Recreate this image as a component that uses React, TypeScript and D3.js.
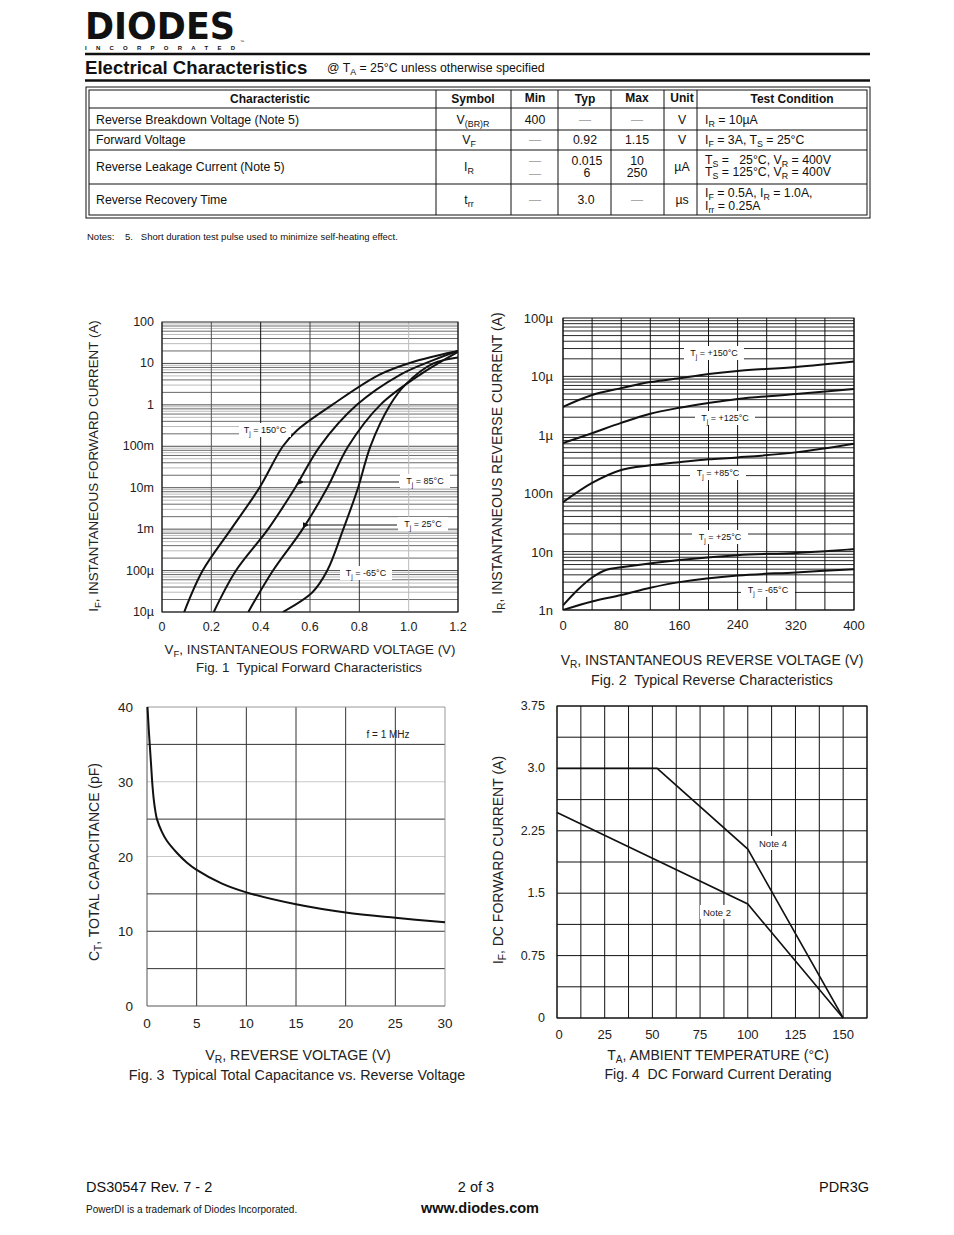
import React from "react";
import * as d3 from "d3";

const FONT = "'Liberation Sans', Arial, Helvetica, sans-serif";

// ---------- Fig. 1 data (V, A) ----------
const f1V150 = [0.09, 0.165, 0.28, 0.395, 0.49, 0.55, 0.69, 0.88, 1.02, 1.2];
const f1I150 = [1e-5, 1e-4, 1e-3, 1e-2, 0.1, 0.25, 1, 5.3, 11, 20];
const f1V85 = [0.21, 0.3, 0.43, 0.54, 0.64, 0.79, 0.965, 1.1, 1.2];
const f1I85 = [1e-5, 1e-4, 1e-3, 1e-2, 0.1, 1, 5.3, 12, 20];
const f1V25 = [0.35, 0.45, 0.57, 0.67, 0.755, 0.885, 1.045, 1.2];
const f1I25 = [1e-5, 1e-4, 1e-3, 1e-2, 0.1, 1, 5.3, 19];
const f1Vm65 = [0.49, 0.61, 0.67, 0.735, 0.795, 0.845, 0.925, 0.985, 1.1, 1.2];
const f1Im65 = [1e-5, 3e-5, 1e-4, 1e-3, 1e-2, 0.1, 1, 3, 10, 14];
const f1XTicks = [0, 0.2, 0.4, 0.6, 0.8, 1.0, 1.2];
const f1XTickLabels = ["0", "0.2", "0.4", "0.6", "0.8", "1.0", "1.2"];
const f1YTicks = [100, 10, 1, 0.1, 0.01, 1e-3, 1e-4, 1e-5];
const f1YTickLabels = ["100", "10", "1", "100m", "10m", "1m", "100µ", "10µ"];

// ---------- Fig. 2 data (V, A) ----------
const f2V = [0, 40, 80, 120, 160, 200, 240, 320, 400];
const f2I150 = [3e-6, 4.8e-6, 6.3e-6, 8e-6, 9.3e-6, 1.1e-5, 1.24e-5, 1.45e-5, 1.8e-5];
const f2I125 = [7.2e-7, 1.07e-6, 1.6e-6, 2.3e-6, 2.9e-6, 3.5e-6, 4.1e-6, 5e-6, 6.1e-6];
const f2I85 = [7e-8, 1.5e-7, 2.5e-7, 3e-7, 3.4e-7, 3.8e-7, 4.1e-7, 5e-7, 7e-7];
const f2V25 = [0, 20, 40, 60, 80, 160, 240, 320, 400];
const f2I25 = [1.2e-9, 2.2e-9, 3.6e-9, 4.9e-9, 5.4e-9, 7.2e-9, 8.7e-9, 9.5e-9, 1.1e-8];
const f2Vm65 = [0, 40, 80, 120, 160, 240, 320, 400];
const f2Im65 = [1e-9, 1.4e-9, 1.8e-9, 2.4e-9, 3e-9, 3.9e-9, 4.4e-9, 5e-9];
const f2XTicks = [0, 80, 160, 240, 320, 400];
const f2YTicks = [1e-4, 1e-5, 1e-6, 1e-7, 1e-8, 1e-9];
const f2YTickLabels = ["100µ", "10µ", "1µ", "100n", "10n", "1n"];

// ---------- Fig. 3 data (V, pF) ----------
const f3V = [0.05, 0.2, 0.4, 0.55, 0.7, 0.85, 1, 1.5, 2, 3, 4, 5, 7.5, 10, 15, 20, 25, 30];
const f3C = [40, 36.5, 32.5, 29.5, 27.4, 26, 25, 23.3, 22.1, 20.5, 19.2, 18.2, 16.4, 15.2, 13.6, 12.5, 11.8, 11.2];
const f3XTicks = [0, 5, 10, 15, 20, 25, 30];
const f3YTicks = [0, 10, 20, 30, 40];

// ---------- Fig. 4 data (°C, A) ----------
const f4TNote4 = [0, 52.5, 100, 150];
const f4INote4 = [3.0, 3.0, 2.03, 0];
const f4TNote2 = [0, 100, 150];
const f4INote2 = [2.47, 1.37, 0];
const f4XTicks = [0, 25, 50, 75, 100, 125, 150];
const f4YTicks = [0, 0.75, 1.5, 2.25, 3.0, 3.75];
const f4YTickLabels = ["0", "0.75", "1.5", "2.25", "3.0", "3.75"];

const PRE = { whiteSpace: "pre" } as any;

// rich text helper: parts [text, isSub]
function rich(parts: [string, boolean][], shift = 3) {
  let cur = 0;
  return parts.map(([t, sub], i) => {
    const target = sub ? shift : 0;
    const dy = target - cur;
    cur = target;
    return (
      <tspan key={i} dy={dy} fontSize={sub ? "72%" : undefined}>
        {t}
      </tspan>
    );
  });
}

function Label({ x, y, w, parts, size = 9 }: any) {
  return (
    <g>
      <rect x={x - w / 2} y={y - 7} width={w} height={14} fill="white" />
      <text x={x} y={y + 3} textAnchor="middle" fontSize={size} fill="#111">
        {rich(parts, 2.5)}
      </text>
    </g>
  );
}

function Fig1() {
  const x = d3.scaleLinear().domain([0, 1.2]).range([162, 458]);
  const y = d3.scaleLog().domain([1e-5, 100]).range([612, 322]);
  const line = d3
    .line<[number, number]>()
    .x((d) => x(d[0]))
    .y((d) => y(d[1]))
    .curve(d3.curveCatmullRom.alpha(0.5));
  const hLines: { v: number; m: number }[] = [];
  for (let d = -5; d <= 1; d++) for (let m = 1; m <= 9; m++) hLines.push({ v: m * Math.pow(10, d), m });
  const vCol = ["#222", "#555", "#111", "#444", "#333", "#bbb", "#222"];
  const series = [
    [f1V150, f1I150],
    [f1V85, f1I85],
    [f1V25, f1I25],
    [f1Vm65, f1Im65],
  ];
  return (
    <g>
      <defs>
        <clipPath id="c1">
          <rect x={162} y={322} width={296} height={290} />
        </clipPath>
        <marker id="arr" viewBox="0 0 10 10" refX="1" refY="5" markerWidth="7" markerHeight="7" orient="auto-start-reverse">
          <path d="M10,1 L0,5 L10,9 z" fill="#111" />
        </marker>
      </defs>
      {hLines.map((h, i) => (
        <line key={i} x1={162} x2={458} y1={y(h.v)} y2={y(h.v)}
          stroke={h.m === 1 ? "#222" : h.m % 2 === 1 ? "#aaa" : "#444"} strokeWidth={0.8} />
      ))}
      {f1XTicks.map((t, i) => (
        <line key={i} x1={x(t)} x2={x(t)} y1={322} y2={612} stroke={vCol[i]} strokeWidth={1} />
      ))}
      <rect x={162} y={322} width={296} height={290} fill="none" stroke="#222" strokeWidth={1} />
      <g clipPath="url(#c1)">
        {series.map((s, i) => (
          <path key={i} d={line(s[0].map((v, j) => [v, s[1][j]]) as any) || ""} fill="none" stroke="#111" strokeWidth={2} />
        ))}
      </g>
      <Label x={265} y={430} w={52} parts={[["T", false], ["j", true], [" = 150°C", false]]} />
      <Label x={425} y={481} w={50} parts={[["T", false], ["j", true], [" = 85°C", false]]} />
      <Label x={423} y={524} w={50} parts={[["T", false], ["j", true], [" = 25°C", false]]} />
      <Label x={366} y={573} w={52} parts={[["T", false], ["j", true], [" = -65°C", false]]} />
      <line x1={399} x2={304} y1={482} y2={482} stroke="#111" strokeWidth={1} markerEnd="url(#arr)" />
      <line x1={397} x2={309} y1={525} y2={525} stroke="#111" strokeWidth={1} markerEnd="url(#arr)" />
      {f1YTicks.map((t, i) => (
        <text key={i} x={154} y={y(t) + 4} textAnchor="end" fontSize={12.5} fill="#222">{f1YTickLabels[i]}</text>
      ))}
      {f1XTicks.map((t, i) => (
        <text key={i} x={x(t)} y={631} textAnchor="middle" fontSize={12.5} fill="#222">{f1XTickLabels[i]}</text>
      ))}
      <text x={310} y={654} textAnchor="middle" fontSize={13.3} fill="#222">
        {rich([["V", false], ["F", true], [", INSTANTANEOUS FORWARD VOLTAGE (V)", false]])}
      </text>
      <text x={309} y={672} textAnchor="middle" fontSize={13.3} fill="#222" style={PRE}>Fig. 1  Typical Forward Characteristics</text>
      <text transform="translate(98,466) rotate(-90)" textAnchor="middle" fontSize={13.4} fill="#222">
        {rich([["I", false], ["F", true], [", INSTANTANEOUS FORWARD CURRENT (A)", false]])}
      </text>
    </g>
  );
}

function Fig2() {
  const x = d3.scaleLinear().domain([0, 400]).range([563, 854]);
  const y = d3.scaleLog().domain([1e-9, 1e-4]).range([610, 318]);
  const line = d3
    .line<[number, number]>()
    .x((d) => x(d[0]))
    .y((d) => y(d[1]))
    .curve(d3.curveCatmullRom.alpha(0.5));
  const hLines: number[] = [];
  for (let d = -9; d <= -5; d++) for (let m = 1; m <= 9; m++) hLines.push(m * Math.pow(10, d));
  const vLines = d3.range(0, 401, 40);
  const series = [
    [f2V, f2I150],
    [f2V, f2I125],
    [f2V, f2I85],
    [f2V25, f2I25],
    [f2Vm65, f2Im65],
  ];
  return (
    <g>
      <defs>
        <clipPath id="c2">
          <rect x={563} y={318} width={291} height={292} />
        </clipPath>
      </defs>
      {hLines.map((h, i) => (
        <line key={i} x1={563} x2={854} y1={y(h)} y2={y(h)} stroke="#111" strokeWidth={0.9} />
      ))}
      {vLines.map((t, i) => (
        <line key={i} x1={x(t)} x2={x(t)} y1={318} y2={610} stroke="#111" strokeWidth={1} />
      ))}
      <rect x={563} y={318} width={291} height={292} fill="none" stroke="#111" strokeWidth={1} />
      <g clipPath="url(#c2)">
        {series.map((s, i) => (
          <path key={i} d={line(s[0].map((v, j) => [v, s[1][j]]) as any) || ""} fill="none" stroke="#111" strokeWidth={2} />
        ))}
      </g>
      <Label x={714} y={353} w={60} parts={[["T", false], ["j", true], [" = +150°C", false]]} />
      <Label x={725} y={418} w={60} parts={[["T", false], ["j", true], [" = +125°C", false]]} />
      <Label x={718} y={473} w={56} parts={[["T", false], ["j", true], [" = +85°C", false]]} />
      <Label x={720} y={537} w={56} parts={[["T", false], ["j", true], [" = +25°C", false]]} />
      <Label x={768} y={590} w={54} parts={[["T", false], ["j", true], [" = -65°C", false]]} />
      {f2YTicks.map((t, i) => (
        <text key={i} x={553} y={y(t) + 5} textAnchor="end" fontSize={13} fill="#222">{f2YTickLabels[i]}</text>
      ))}
      {f2XTicks.map((t, i) => (
        <text key={i} x={x(t)} y={t === 240 ? 629 : 630} textAnchor="middle" fontSize={13} fill="#222">{t}</text>
      ))}
      <text x={712} y={665} textAnchor="middle" fontSize={14} fill="#222">
        {rich([["V", false], ["R", true], [", INSTANTANEOUS REVERSE VOLTAGE (V)", false]])}
      </text>
      <text x={712} y={685} textAnchor="middle" fontSize={14.2} fill="#222" style={PRE}>Fig. 2  Typical Reverse Characteristics</text>
      <text transform="translate(502,463) rotate(-90)" textAnchor="middle" fontSize={14} fill="#222">
        {rich([["I", false], ["R", true], [", INSTANTANEOUS REVERSE CURRENT (A)", false]])}
      </text>
    </g>
  );
}

function Fig3() {
  const x = d3.scaleLinear().domain([0, 30]).range([147, 445]);
  const y = d3.scaleLinear().domain([0, 40]).range([1006, 707]);
  const line = d3
    .line<[number, number]>()
    .x((d) => x(d[0]))
    .y((d) => y(d[1]))
    .curve(d3.curveCatmullRom.alpha(0.5));
  const hLines = d3.range(5, 40, 5);
  const hCol = (v: number) => (v === 30 || v === 20 ? "#c8c8c8" : "#333");
  return (
    <g>
      {hLines.map((h, i) => (
        <line key={i} x1={147} x2={445} y1={y(h)} y2={y(h)} stroke={hCol(h)} strokeWidth={1} />
      ))}
      {f3XTicks.slice(1, -1).map((t, i) => (
        <line key={i} x1={x(t)} x2={x(t)} y1={707} y2={1006} stroke="#333" strokeWidth={1} />
      ))}
      <line x1={147} x2={445} y1={707} y2={707} stroke="#999" strokeWidth={1} />
      <line x1={445} x2={445} y1={707} y2={1006} stroke="#999" strokeWidth={1} />
      <line x1={147} x2={147} y1={707} y2={1006} stroke="#555" strokeWidth={1} />
      <line x1={147} x2={445} y1={1006} y2={1006} stroke="#555" strokeWidth={1} />
      <path d={line(f3V.map((v, j) => [v, f3C[j]]) as any) || ""} fill="none" stroke="#111" strokeWidth={2} />
      <text x={388} y={738} textAnchor="middle" fontSize={10} fill="#222">f = 1 MHz</text>
      {f3YTicks.map((t, i) => (
        <text key={i} x={133} y={y(t) + 5} textAnchor="end" fontSize={13.5} fill="#222">{t}</text>
      ))}
      {f3XTicks.map((t, i) => (
        <text key={i} x={x(t)} y={1028} textAnchor="middle" fontSize={13.5} fill="#222">{t}</text>
      ))}
      <text x={298} y={1060} textAnchor="middle" fontSize={14.3} fill="#222">
        {rich([["V", false], ["R", true], [", REVERSE VOLTAGE (V)", false]])}
      </text>
      <text x={297} y={1080} textAnchor="middle" fontSize={14.3} fill="#222" style={PRE}>Fig. 3  Typical Total Capacitance vs. Reverse Voltage</text>
      <text transform="translate(99,862) rotate(-90)" textAnchor="middle" fontSize={14} fill="#222">
        {rich([["C", false], ["T", true], [", TOTAL CAPACITANCE (pF)", false]])}
      </text>
    </g>
  );
}

function Fig4() {
  const x = d3.scaleLinear().domain([0, 162.5]).range([557, 867]);
  const y = d3.scaleLinear().domain([0, 3.75]).range([1018, 706]);
  const line = d3
    .line<[number, number]>()
    .x((d) => x(d[0]))
    .y((d) => y(d[1]));
  const vLines = d3.range(0, 163, 12.5);
  const hLines = d3.range(0, 3.76, 0.375);
  return (
    <g>
      {vLines.map((t, i) => (
        <line key={i} x1={x(t)} x2={x(t)} y1={706} y2={1018} stroke="#111" strokeWidth={1} />
      ))}
      {hLines.map((t, i) => (
        <line key={i} x1={557} x2={867} y1={y(t)} y2={y(t)} stroke="#111" strokeWidth={1} />
      ))}
      <rect x={557} y={706} width={310} height={312} fill="none" stroke="#111" strokeWidth={1} />
      <path d={line(f4TNote4.map((v, j) => [v, f4INote4[j]]) as any) || ""} fill="none" stroke="#111" strokeWidth={1.6} />
      <path d={line(f4TNote2.map((v, j) => [v, f4INote2[j]]) as any) || ""} fill="none" stroke="#111" strokeWidth={1.6} />
      <rect x={757} y={836} width={33} height={14} fill="white" />
      <rect x={700} y={905} width={34} height={14} fill="white" />
      <text x={773} y={847} textAnchor="middle" fontSize={9.5} fill="#222">Note 4</text>
      <text x={717} y={916} textAnchor="middle" fontSize={9.5} fill="#222">Note 2</text>
      {f4YTicks.map((t, i) => (
        <text key={i} x={545} y={y(t) + 4} textAnchor="end" fontSize={12.5} fill="#222">{f4YTickLabels[i]}</text>
      ))}
      {f4XTicks.map((t, i) => (
        <text key={i} x={x(t) + (t === 0 ? 2 : 0)} y={1039} textAnchor="middle" fontSize={13} fill="#222">{t}</text>
      ))}
      <text x={718} y={1060} textAnchor="middle" fontSize={14} fill="#222">
        {rich([["T", false], ["A", true], [", AMBIENT TEMPERATURE (°C)", false]])}
      </text>
      <text x={718} y={1079} textAnchor="middle" fontSize={14.1} fill="#222" style={PRE}>Fig. 4  DC Forward Current Derating</text>
      <text transform="translate(503,860) rotate(-90)" textAnchor="middle" fontSize={14} fill="#222">
        {rich([["I", false], ["F", true], [", DC FORWARD CURRENT (A)", false]])}
      </text>
    </g>
  );
}

const colX = [436, 511, 558, 611, 664, 697];
const rowY = [108, 130, 150, 184];

function Header() {
  const dash = (cx: number, cy: number, k: string) => (
    <text key={k} x={cx} y={cy + 4} textAnchor="middle" fontSize={12} fill="#aaa">—</text>
  );
  return (
    <g>
      {/* logo */}
      <text x={85} y={38.5} fontSize={37} fontWeight={900} textLength={150} lengthAdjust="spacingAndGlyphs"
        fontFamily="'DejaVu Sans', 'Liberation Sans', sans-serif" fill="#111">DIODES</text>
      <text x={240} y={43} fontSize={4} fill="#111">™</text>
      <text x={85} y={50} fontSize={6} fontWeight={700} textLength={150} lengthAdjust="spacing" fill="#111">INCORPORATED</text>
      <line x1={85} x2={870} y1={54} y2={54} stroke="#111" strokeWidth={2.5} />
      <text x={85} y={74} fontSize={18.6} fontWeight={700} fill="#111">Electrical Characteristics</text>
      <text x={327} y={72} fontSize={12.3} fill="#111">
        {rich([["@ T", false], ["A", true], [" = 25°C unless otherwise specified", false]])}
      </text>
      <line x1={85} x2={870} y1={80.5} y2={80.5} stroke="#111" strokeWidth={2.5} />
      {/* table */}
      <rect x={86} y={87} width={784} height={131} fill="none" stroke="#111" strokeWidth={1} />
      <rect x={89} y={90} width={778} height={125} fill="none" stroke="#111" strokeWidth={1} />
      {colX.map((cx, i) => (
        <line key={i} x1={cx} x2={cx} y1={90} y2={215} stroke="#111" strokeWidth={1} />
      ))}
      {rowY.map((ry, i) => (
        <line key={i} x1={89} x2={867} y1={ry} y2={ry} stroke="#111" strokeWidth={1} />
      ))}
      <g fontSize={12} fontWeight={700} fill="#111" textAnchor="middle">
        <text x={270} y={102.5}>Characteristic</text>
        <text x={473} y={103}>Symbol</text>
        <text x={535} y={102}>Min</text>
        <text x={585} y={103}>Typ</text>
        <text x={637} y={102}>Max</text>
        <text x={682} y={102}>Unit</text>
        <text x={792} y={103}>Test Condition</text>
      </g>
      <g fontSize={12.3} fill="#111">
        <text x={96} y={124}>Reverse Breakdown Voltage (Note 5)</text>
        <text x={96} y={144}>Forward Voltage</text>
        <text x={96} y={171}>Reverse Leakage Current (Note 5)</text>
        <text x={96} y={204}>Reverse Recovery Time</text>
        <g textAnchor="middle">
          <text x={473} y={124}>{rich([["V", false], ["(BR)R", true]], 2.5)}</text>
          <text x={469} y={144}>{rich([["V", false], ["F", true]], 2.5)}</text>
          <text x={469} y={171}>{rich([["I", false], ["R", true]], 2.5)}</text>
          <text x={469} y={204}>{rich([["t", false], ["rr", true]], 2.5)}</text>
          <text x={535} y={124}>400</text>
          <text x={585} y={144}>0.92</text>
          <text x={637} y={144}>1.15</text>
          <text x={587} y={165}>0.015</text>
          <text x={587} y={177}>6</text>
          <text x={637} y={165}>10</text>
          <text x={637} y={177}>250</text>
          <text x={586} y={204}>3.0</text>
          <text x={682} y={124}>V</text>
          <text x={682} y={144}>V</text>
          <text x={682} y={171}>µA</text>
          <text x={682} y={204}>µs</text>
        </g>
        <text x={705} y={124}>{rich([["I", false], ["R", true], [" = 10µA", false]], 2.5)}</text>
        <text x={705} y={144}>{rich([["I", false], ["F", true], [" = 3A, T", false], ["S", true], [" = 25°C", false]], 2.5)}</text>
        <text x={705} y={164} style={PRE}>{rich([["T", false], ["S", true], [" =   25°C, V", false], ["R", true], [" = 400V", false]], 2.5)}</text>
        <text x={705} y={176} style={PRE}>{rich([["T", false], ["S", true], [" = 125°C, V", false], ["R", true], [" = 400V", false]], 2.5)}</text>
        <text x={705} y={197}>{rich([["I", false], ["F", true], [" = 0.5A, I", false], ["R", true], [" = 1.0A,", false]], 2.5)}</text>
        <text x={705} y={210}>{rich([["I", false], ["rr", true], [" = 0.25A", false]], 2.5)}</text>
      </g>
      {[
        dash(585, 120, "a"), dash(637, 120, "b"),
        dash(535, 140, "c"),
        dash(535, 161, "d"), dash(535, 174, "e"),
        dash(535, 200, "f"), dash(637, 200, "g"),
      ]}
      <text x={87} y={240} fontSize={9.5} fill="#111" style={PRE}>Notes:    5.   Short duration test pulse used to minimize self-heating effect.</text>
    </g>
  );
}

function Footer() {
  return (
    <g fill="#111">
      <text x={86} y={1192} fontSize={14.5}>DS30547 Rev. 7 - 2</text>
      <text x={476} y={1192} fontSize={14.5} textAnchor="middle">2 of 3</text>
      <text x={869} y={1192} fontSize={14.5} textAnchor="end">PDR3G</text>
      <text x={86} y={1213} fontSize={10}>PowerDI is a trademark of Diodes Incorporated.</text>
      <text x={480} y={1213} fontSize={14.5} fontWeight={700} textAnchor="middle">www.diodes.com</text>
    </g>
  );
}

export default function App() {
  return (
    <svg width={954} height={1235} viewBox="0 0 954 1235"
      style={{ position: "absolute", left: 0, top: 0, background: "white" }}
      fontFamily={FONT}>
      <rect x={0} y={0} width={954} height={1235} fill="white" />
      <Header />
      <Fig1 />
      <Fig2 />
      <Fig3 />
      <Fig4 />
      <Footer />
    </svg>
  );
}
